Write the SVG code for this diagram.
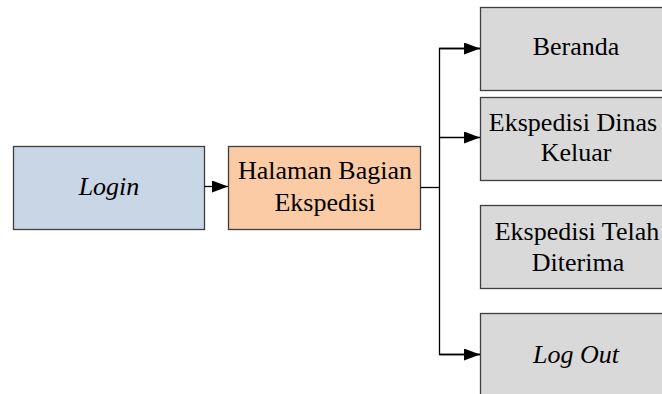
<svg xmlns="http://www.w3.org/2000/svg" width="662" height="394" viewBox="0 0 662 394">
<defs>
<style>
.box{stroke:#3f3f3f;stroke-width:1.3}
.t{font-family:'Liberation Serif','Times New Roman','DejaVu Serif',serif;font-size:26px;fill:#000;text-anchor:middle}
.i{font-style:italic}
.c{fill:none;stroke:#000;stroke-width:1.3}
</style>
<marker id="ah" markerWidth="16" markerHeight="12" refX="16" refY="6" orient="auto" markerUnits="userSpaceOnUse">
<path d="M0,0 L16,6 L0,12 Z" fill="#000"/>
</marker>
</defs>
<rect width="662" height="394" fill="#fff"/>
<g id="login">
<rect class="box" x="13.5" y="146.5" width="191" height="83" fill="#c9d6e5"/>
<text class="t i" font-family="Liberation Serif, serif" x="109" y="195">Login</text>
</g>
<g id="halaman">
<rect class="box" x="228.5" y="146.5" width="192" height="83" fill="#fbcba5"/>
<text class="t" font-family="Liberation Serif, serif" x="325" y="179">Halaman Bagian</text>
<text class="t" font-family="Liberation Serif, serif" x="325" y="211">Ekspedisi</text>
</g>
<g id="beranda">
<rect class="box" x="480.5" y="7.5" width="192" height="83" fill="#d9d9d9"/>
<text class="t" font-family="Liberation Serif, serif" x="576" y="55">Beranda</text>
</g>
<g id="dinas">
<rect class="box" x="480.5" y="97.5" width="192" height="83" fill="#d9d9d9"/>
<text class="t" font-family="Liberation Serif, serif" x="573" y="131">Ekspedisi Dinas</text>
<text class="t" font-family="Liberation Serif, serif" x="576" y="161">Keluar</text>
</g>
<g id="telah">
<rect class="box" x="480.5" y="205.5" width="192" height="83" fill="#d9d9d9"/>
<text class="t" font-family="Liberation Serif, serif" x="577" y="240">Ekspedisi Telah</text>
<text class="t" font-family="Liberation Serif, serif" x="578" y="271">Diterima</text>
</g>
<g id="logout">
<rect class="box" x="480.5" y="313.5" width="192" height="90" fill="#d9d9d9"/>
<text class="t i" font-family="Liberation Serif, serif" x="576" y="363">Log Out</text>
</g>
<g id="connectors">
<line class="c" x1="204.5" y1="186.5" x2="228" y2="186.5" marker-end="url(#ah)"/>
<line class="c" x1="420.5" y1="187.5" x2="439.5" y2="187.5"/>
<polyline class="c" points="480,48.5 439.5,48.5 439.5,354.5 480,354.5"/>
<line class="c" x1="439.5" y1="48.5" x2="480" y2="48.5" marker-end="url(#ah)"/>
<line class="c" x1="439.5" y1="137.5" x2="480" y2="137.5" marker-end="url(#ah)"/>
<line class="c" x1="439.5" y1="354.5" x2="480" y2="354.5" marker-end="url(#ah)"/>
</g>
</svg>
